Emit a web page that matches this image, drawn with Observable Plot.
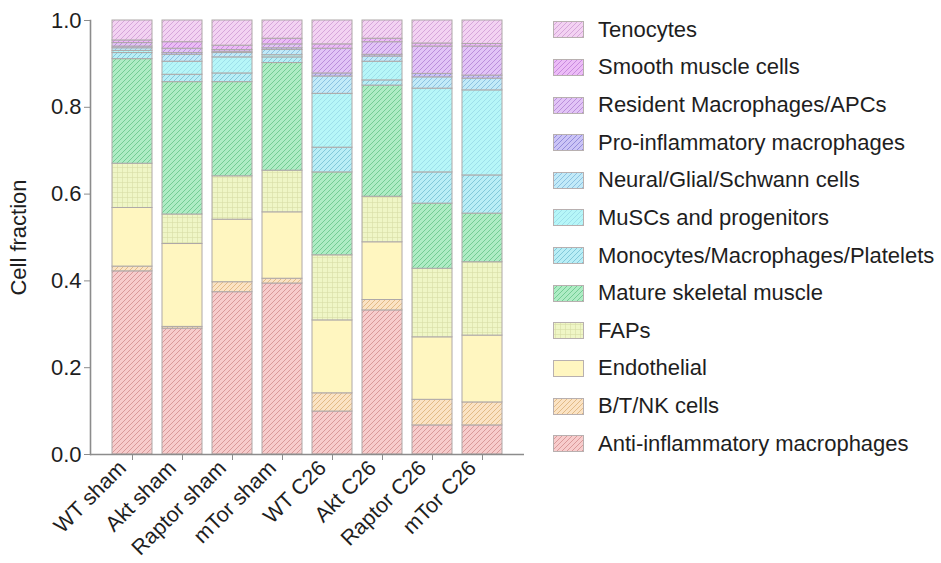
<!DOCTYPE html>
<html><head><meta charset="utf-8">
<script src="https://cdn.jsdelivr.net/npm/d3@7"></script>
<script src="https://cdn.jsdelivr.net/npm/@observablehq/plot@0.6"></script>
<style>
body{margin:0;background:#fff;font-family:"Liberation Sans",Arial,sans-serif;}
#wrap{position:relative;width:941px;height:563px;background:#fff}
#chart{position:absolute;left:0;top:0}
#legend{position:absolute;left:553px;top:11px}
.row{display:flex;align-items:center;height:37.64px}
.row span{font-size:22px;color:#1e1e1e;margin-left:14px;white-space:nowrap}
</style></head><body>
<svg width="0" height="0" style="position:absolute"><defs id="defs"></defs></svg>
<div id="wrap"><div id="chart"></div><div id="legend"></div></div>
<script>
const samples = ["WT sham","Akt sham","Raptor sham","mTor sham","WT C26","Akt C26","Raptor C26","mTor C26"];
// stacking order, bottom to top
const cellTypes = ["Anti-inflammatory macrophages","B/T/NK cells","Endothelial","FAPs","Mature skeletal muscle",
  "Monocytes/Macrophages/Platelets","MuSCs and progenitors","Neural/Glial/Schwann cells",
  "Pro-inflammatory macrophages","Resident Macrophages/APCs","Smooth muscle cells","Tenocytes"];
const antiInflammatory = [0.422,0.290,0.374,0.394,0.099,0.332,0.067,0.067];
const btnk            = [0.011,0.004,0.023,0.011,0.042,0.024,0.059,0.053];
const endothelial     = [0.135,0.191,0.144,0.153,0.168,0.133,0.144,0.154];
const faps            = [0.102,0.068,0.100,0.096,0.150,0.105,0.158,0.169];
const matureMuscle    = [0.241,0.305,0.217,0.248,0.191,0.256,0.150,0.112];
const monocytes       = [0.014,0.017,0.020,0.013,0.057,0.012,0.072,0.088];
const muscs           = [0.005,0.030,0.037,0.005,0.124,0.043,0.193,0.196];
const neural          = [0.006,0.016,0.010,0.012,0.040,0.012,0.026,0.027];
const proInflammatory = [0.004,0.004,0.003,0.004,0.007,0.004,0.008,0.007];
const resident        = [0.008,0.010,0.004,0.009,0.057,0.029,0.063,0.067];
const smoothMuscle    = [0.006,0.015,0.010,0.013,0.010,0.008,0.007,0.006];
const tenocytes       = [0.046,0.050,0.058,0.042,0.055,0.042,0.053,0.054];
const yTicks = [0,0.2,0.4,0.6,0.8,1.0];

const series = [antiInflammatory,btnk,endothelial,faps,matureMuscle,monocytes,muscs,neural,proInflammatory,resident,smoothMuscle,tenocytes];
const baseColors  = ["#f7cccc","#fbe3c4","#fff6c0","#eff6c6","#aeecc4","#b9eef6","#b6f6f8","#c2eaf8","#cbc4f6","#e2c4f6","#ecbcf6","#f3d2f2"];
const hatchColors = ["#d99a9a","#e2bb86","none","#d6dea6","#74cc94","#82c9da","#9edfea","#8cc2e2","#948ddb","#bb8fdb","#c88ade","#d6a6da"];
const hatchStyle  = ["diag","diag","none","cross","diag","diag","diag","diag","diag","diag","diag","diag"];

const defs = d3.select("#defs");
cellTypes.forEach((t,i)=>{
  const p = defs.append("pattern").attr("id","pat"+i).attr("patternUnits","userSpaceOnUse").attr("width",5).attr("height",5);
  p.append("rect").attr("width",5).attr("height",5).attr("fill",baseColors[i]);
  if (hatchStyle[i]==="diag") p.append("path").attr("d","M-1,1 l2,-2 M0,5 l5,-5 M4,6 l2,-2").attr("stroke",hatchColors[i]).attr("stroke-width",1);
  if (hatchStyle[i]==="cross") p.append("path").attr("d","M0,2.5 h5 M2.5,0 v5").attr("stroke",hatchColors[i]).attr("stroke-width",0.6);
});
const patterns = cellTypes.map((t,i)=>`url(#pat${i})`);

const data = [];
cellTypes.forEach((type,i)=>samples.forEach((s,j)=>data.push({sample:s,type,value:series[i][j]})));

const chart = Plot.plot({
  width: 530, height: 563,
  marginLeft: 90, marginRight: 6, marginTop: 20, marginBottom: 109,
  style: {fontFamily:'"Liberation Sans",Arial,sans-serif', fontSize:"22px", color:"#1e1e1e", background:"transparent", overflow:"visible"},
  x: {domain: samples, paddingInner: 0.2, paddingOuter: 0.44, label: null},
  y: {domain:[0,1], label: null},
  color: {domain: cellTypes, range: patterns},
  marks: [
    Plot.barY(data, {x:"sample", y:"value", fill:"type", stroke:"#aea8a8", strokeWidth:1}),
    Plot.axisY({ticks:yTicks, tickFormat:d3.format(".1f"), tickSize:6, tickPadding:3, stroke:"#8c8c8c",
      label:"Cell fraction", labelAnchor:"center", labelArrow:false, labelOffset:80, fontSize:22}),
    Plot.axisX({tickSize:6, tickFormat:()=>"", stroke:"#8c8c8c", label:null}),
    Plot.axisX({tickRotate:-45, tickSize:0, tickPadding:9, label:null, fontSize:21.5, dx:-10, dy:1}),
    Plot.frame({anchor:"left", stroke:"#8c8c8c", strokeWidth:1.6}),
    Plot.ruleY([0], {stroke:"#8c8c8c", strokeWidth:1.6})
  ]
});
document.getElementById("chart").appendChild(chart);

const legend = d3.select("#legend");
cellTypes.slice().reverse().forEach(t=>{
  const i = cellTypes.indexOf(t);
  const row = legend.append("div").attr("class","row");
  const s = row.append("svg").attr("width",31).attr("height",17);
  s.append("rect").attr("x",0.5).attr("y",0.5).attr("width",30).attr("height",16).attr("fill",patterns[i]).attr("stroke","#b8b0b0");
  row.append("span").text(t);
});
</script>
</body></html>
